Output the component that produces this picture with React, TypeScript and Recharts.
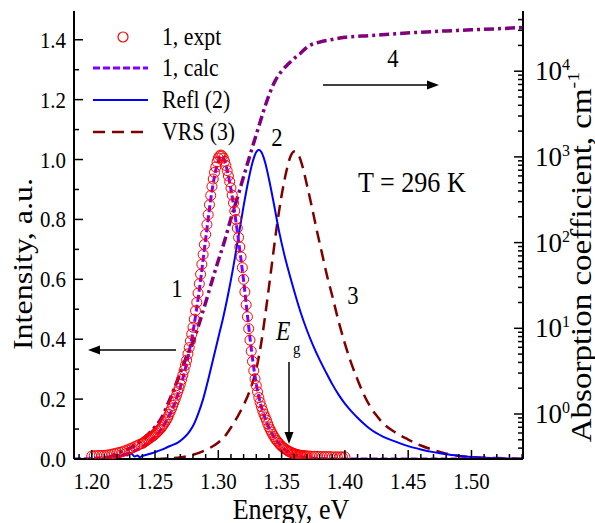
import { ComposedChart, Line, Scatter, XAxis, YAxis } from "recharts";

document.body.style.margin = "0";

const FONT = "'Liberation Serif', 'Times New Roman', serif";
const SQ = 0.87; // glyphs in the figure are a bit narrow

// PL, experiment (curve 1, circles): [energy eV, intensity]
const expt: number[][] = [
  [1.200, 0.010], [1.202, 0.011], [1.204, 0.011], [1.206, 0.012], [1.208, 0.012],
  [1.210, 0.012], [1.212, 0.013], [1.214, 0.014], [1.216, 0.016], [1.218, 0.018],
  [1.220, 0.020], [1.222, 0.022], [1.224, 0.024], [1.226, 0.027], [1.228, 0.030],
  [1.230, 0.034], [1.232, 0.037], [1.234, 0.041], [1.236, 0.045], [1.238, 0.049],
  [1.240, 0.052], [1.241, 0.055], [1.242, 0.058], [1.243, 0.061], [1.244, 0.064],
  [1.245, 0.067], [1.246, 0.070], [1.247, 0.073], [1.248, 0.076], [1.249, 0.079],
  [1.250, 0.083], [1.251, 0.087], [1.252, 0.091], [1.253, 0.096], [1.254, 0.100],
  [1.255, 0.105], [1.256, 0.111], [1.257, 0.117], [1.258, 0.124], [1.259, 0.131],
  [1.260, 0.138], [1.261, 0.148], [1.262, 0.158], [1.263, 0.168], [1.264, 0.179],
  [1.265, 0.190], [1.266, 0.201], [1.267, 0.213], [1.268, 0.225], [1.269, 0.237],
  [1.270, 0.250], [1.271, 0.265], [1.272, 0.280], [1.273, 0.296], [1.274, 0.313],
  [1.275, 0.330], [1.276, 0.351], [1.277, 0.372], [1.278, 0.394], [1.279, 0.417],
  [1.280, 0.440], [1.281, 0.467], [1.282, 0.495], [1.283, 0.523], [1.284, 0.554],
  [1.285, 0.585], [1.286, 0.617], [1.287, 0.650], [1.288, 0.683], [1.289, 0.716],
  [1.290, 0.750], [1.291, 0.783], [1.292, 0.816], [1.293, 0.849], [1.294, 0.880],
  [1.295, 0.910], [1.296, 0.935], [1.297, 0.957], [1.298, 0.975], [1.299, 0.992],
  [1.300, 1.005], [1.301, 1.012], [1.302, 1.015], [1.303, 1.012], [1.304, 1.005],
  [1.305, 0.994], [1.306, 0.980], [1.307, 0.963], [1.308, 0.945], [1.309, 0.926],
  [1.310, 0.905], [1.311, 0.881], [1.312, 0.855], [1.313, 0.828], [1.314, 0.800],
  [1.315, 0.771], [1.316, 0.740], [1.317, 0.708], [1.318, 0.675], [1.319, 0.639],
  [1.320, 0.600], [1.321, 0.558], [1.322, 0.515], [1.323, 0.475], [1.324, 0.435],
  [1.325, 0.397], [1.326, 0.360], [1.327, 0.326], [1.328, 0.295], [1.329, 0.268],
  [1.330, 0.245], [1.331, 0.224], [1.332, 0.205], [1.333, 0.189], [1.334, 0.175],
  [1.335, 0.162], [1.336, 0.150], [1.337, 0.140], [1.338, 0.130], [1.339, 0.118],
  [1.340, 0.107], [1.341, 0.098], [1.342, 0.090], [1.343, 0.082], [1.344, 0.075],
  [1.345, 0.068], [1.346, 0.062], [1.347, 0.057], [1.348, 0.052], [1.349, 0.047],
  [1.350, 0.043], [1.351, 0.039], [1.352, 0.036], [1.353, 0.033], [1.354, 0.030],
  [1.355, 0.027], [1.356, 0.025], [1.357, 0.023], [1.358, 0.021], [1.359, 0.019],
  [1.360, 0.018], [1.361, 0.016], [1.362, 0.015], [1.363, 0.014], [1.364, 0.013],
  [1.365, 0.012], [1.366, 0.012], [1.367, 0.011], [1.368, 0.011], [1.369, 0.010],
  [1.370, 0.010], [1.372, 0.010], [1.374, 0.009], [1.376, 0.009], [1.378, 0.009],
  [1.380, 0.008], [1.382, 0.008], [1.384, 0.008], [1.386, 0.008], [1.388, 0.008],
  [1.390, 0.007], [1.392, 0.007], [1.394, 0.007], [1.396, 0.007], [1.398, 0.007],
  [1.400, 0.007],
];

// PL, calculated (curve 1, short dashes)
const calc: number[][] = [
  [1.186, 0.0], [1.200, 0.002], [1.210, 0.005], [1.220, 0.010], [1.230, 0.020],
  [1.240, 0.040], [1.245, 0.055], [1.250, 0.075], [1.255, 0.100], [1.260, 0.135],
  [1.265, 0.180], [1.270, 0.240], [1.275, 0.320], [1.280, 0.425], [1.285, 0.565],
  [1.290, 0.735], [1.295, 0.895], [1.2975, 0.955], [1.300, 0.995], [1.3025, 1.012],
  [1.305, 0.995], [1.3075, 0.955], [1.310, 0.900], [1.3125, 0.835], [1.315, 0.760],
  [1.3175, 0.680], [1.320, 0.595], [1.3225, 0.500], [1.325, 0.405], [1.3275, 0.320],
  [1.330, 0.250], [1.3325, 0.198], [1.335, 0.160], [1.340, 0.105], [1.345, 0.068],
  [1.350, 0.042], [1.355, 0.025], [1.360, 0.014], [1.370, 0.005], [1.380, 0.002],
  [1.400, 0.0], [1.540, 0.0],
];

// Reflection (curve 2)
const refl: number[][] = [
  [1.221, 0.004], [1.224, 0.012], [1.226, 0.018], [1.228, 0.012], [1.230, 0.020],
  [1.232, 0.016], [1.234, 0.008], [1.236, 0.012], [1.238, 0.006], [1.240, 0.010],
  [1.244, 0.015], [1.248, 0.020], [1.252, 0.026], [1.256, 0.032], [1.260, 0.040],
  [1.264, 0.047], [1.268, 0.055], [1.272, 0.068], [1.276, 0.085], [1.280, 0.110],
  [1.284, 0.150], [1.288, 0.200], [1.292, 0.265], [1.296, 0.335], [1.300, 0.405],
  [1.304, 0.475], [1.308, 0.555], [1.312, 0.645], [1.316, 0.745], [1.320, 0.845],
  [1.324, 0.935], [1.327, 0.990], [1.330, 1.025], [1.332, 1.033], [1.334, 1.025],
  [1.337, 0.990], [1.340, 0.935], [1.344, 0.850], [1.348, 0.760], [1.352, 0.685],
  [1.356, 0.620], [1.360, 0.560], [1.365, 0.490], [1.370, 0.430], [1.375, 0.378],
  [1.380, 0.332], [1.385, 0.290], [1.390, 0.250], [1.395, 0.215], [1.400, 0.185],
  [1.405, 0.160], [1.410, 0.138], [1.415, 0.118], [1.420, 0.100], [1.430, 0.075],
  [1.440, 0.058], [1.450, 0.043], [1.460, 0.032], [1.470, 0.023], [1.480, 0.016],
  [1.490, 0.011], [1.500, 0.007], [1.510, 0.004], [1.520, 0.002], [1.530, 0.001],
  [1.540, 0.0],
];

// VRS (curve 3)
const vrs: number[][] = [
  [1.250, 0.000], [1.260, 0.002], [1.270, 0.005], [1.280, 0.014], [1.290, 0.030],
  [1.300, 0.055], [1.305, 0.075], [1.310, 0.105], [1.315, 0.140], [1.320, 0.180],
  [1.325, 0.230], [1.330, 0.300], [1.334, 0.390], [1.338, 0.510], [1.342, 0.640],
  [1.346, 0.770], [1.350, 0.880], [1.354, 0.965], [1.357, 1.010], [1.360, 1.027],
  [1.363, 1.018], [1.366, 0.985], [1.370, 0.915], [1.374, 0.840], [1.378, 0.760],
  [1.382, 0.685], [1.386, 0.610], [1.390, 0.545], [1.395, 0.460], [1.400, 0.385],
  [1.405, 0.320], [1.410, 0.265], [1.415, 0.215], [1.420, 0.175], [1.425, 0.145],
  [1.430, 0.120], [1.440, 0.088], [1.450, 0.065], [1.460, 0.045], [1.470, 0.030],
  [1.480, 0.018], [1.490, 0.010], [1.500, 0.006], [1.510, 0.004], [1.520, 0.003],
  [1.530, 0.002], [1.540, 0.001],
];

// absorption coefficient, cm^-1 (curve 4, right log axis)
const absorption: number[][] = [
  [1.212, 0.302], [1.220, 0.347], [1.230, 0.398], [1.240, 0.501], [1.250, 0.708],
  [1.255, 0.891], [1.260, 1.29], [1.265, 1.95], [1.270, 3.02], [1.275, 4.68],
  [1.280, 6.92], [1.285, 11.5], [1.290, 20.0], [1.295, 35.5], [1.300, 61.7],
  [1.305, 105], [1.310, 191], [1.315, 331], [1.320, 589], [1.325, 1047],
  [1.330, 1820], [1.335, 3162], [1.340, 5248], [1.345, 7762], [1.350, 10000],
  [1.355, 12020], [1.360, 14130], [1.365, 16220], [1.370, 19050], [1.380, 21880],
  [1.390, 23440], [1.400, 24830], [1.420, 26000], [1.440, 27350], [1.460, 28510],
  [1.480, 29510], [1.500, 30410], [1.520, 31260], [1.540, 32360],
];

const X_LABELS = [1.2, 1.25, 1.3, 1.35, 1.4, 1.45, 1.5];
const X_TICKS = [
  1.19, 1.2, 1.21, 1.22, 1.23, 1.24, 1.25, 1.26, 1.27, 1.28, 1.29, 1.3, 1.31,
  1.32, 1.33, 1.34, 1.35, 1.36, 1.37, 1.38, 1.39, 1.4, 1.41, 1.42, 1.43, 1.44,
  1.45, 1.46, 1.47, 1.48, 1.49, 1.5, 1.51, 1.52, 1.53, 1.54,
];
const TOP_TICKS = [
  1.2, 1.225, 1.25, 1.275, 1.3, 1.325, 1.35, 1.375, 1.4, 1.425, 1.45, 1.475, 1.5, 1.525,
];
const Y_LABELS = [0, 0.2, 0.4, 0.6, 0.8, 1.0, 1.2, 1.4];
const Y_TICKS = [0, 0.1, 0.2, 0.3, 0.4, 0.5, 0.6, 0.7, 0.8, 0.9, 1.0, 1.1, 1.2, 1.3, 1.4];
const LOG_TICKS = [
  0.3, 0.4, 0.5, 0.6, 0.7, 0.8, 0.9,
  1, 2, 3, 4, 5, 6, 7, 8, 9,
  10, 20, 30, 40, 50, 60, 70, 80, 90,
  100, 200, 300, 400, 500, 600, 700, 800, 900,
  1000, 2000, 3000, 4000, 5000, 6000, 7000, 8000, 9000,
  10000, 20000, 30000, 40000,
];

const pts = (a: number[][]) => a.map(([e, v]) => ({ e, v }));
const near = (a: number, b: number) => Math.abs(a - b) < 1e-6;

function SqText({ x, y, size, anchor = "start", italic, children }: any) {
  return (
    <text
      transform={`translate(${x},${y}) scale(${SQ},1)`}
      fontSize={size}
      fontFamily={FONT}
      textAnchor={anchor}
      fontStyle={italic ? "italic" : undefined}
      fill="#000"
    >
      {children}
    </text>
  );
}

function BottomTick({ x, y, payload }: any) {
  const v = payload.value;
  const major = X_LABELS.some((t) => near(t, v));
  return (
    <g>
      <line x1={x} y1={y} x2={x} y2={y - (major ? 9 : 5)} stroke="#000" strokeWidth={1.5} />
      {major && (
        <SqText x={x} y={y + 30} size={24} anchor="middle">
          {v.toFixed(2)}
        </SqText>
      )}
    </g>
  );
}

function TopTick({ x, y }: any) {
  return <line x1={x} y1={y} x2={x} y2={y + 4} stroke="#000" strokeWidth={1} />;
}

function LeftTick({ x, y, payload }: any) {
  const v = payload.value;
  const major = Y_LABELS.some((t) => near(t, v));
  return (
    <g>
      <line x1={x} y1={y} x2={x + (major ? 9 : 5)} y2={y} stroke="#000" strokeWidth={1.5} />
      {major && (
        <SqText x={x - 8} y={y + 8} size={24} anchor="end">
          {v.toFixed(1)}
        </SqText>
      )}
    </g>
  );
}

function RightTick({ x, y, payload }: any) {
  const v = payload.value;
  const p = Math.log10(v);
  const major = Math.abs(p - Math.round(p)) < 1e-6;
  return (
    <g>
      <line x1={x} y1={y} x2={x - (major ? 9 : 5)} y2={y} stroke="#000" strokeWidth={1.5} />
      {major && (
        <text x={x + 12} y={y + 9} fontSize={27} fontFamily={FONT} fill="#000">
          10
          <tspan fontSize={16} dy={-10}>
            {Math.round(p)}
          </tspan>
        </text>
      )}
    </g>
  );
}

function Overlay() {
  return (
    <svg
      width={595}
      height={523}
      style={{ position: "absolute", left: 0, top: 0, pointerEvents: "none" }}
    >
      {/* legend */}
      <circle cx={123} cy={37} r={5} fill="none" stroke="#ff0000" strokeWidth={1.2} />
      <SqText x={162} y={45} size={25}>1, expt</SqText>
      <line x1={93} y1={68} x2={148} y2={68} stroke="#8000ff" strokeWidth={3} strokeDasharray="7 3" />
      <SqText x={162} y={76} size={25}>1, calc</SqText>
      <line x1={93} y1={100} x2={148} y2={100} stroke="#0000ff" strokeWidth={2} />
      <SqText x={162} y={108} size={25}>Refl (2)</SqText>
      <line x1={93} y1={132} x2={148} y2={132} stroke="#800000" strokeWidth={2.5} strokeDasharray="12 7" />
      <SqText x={162} y={140} size={25}>VRS (3)</SqText>

      {/* curve labels */}
      <SqText x={177} y={297} size={26} anchor="middle">1</SqText>
      <SqText x={277} y={146} size={26} anchor="middle">2</SqText>
      <SqText x={353} y={304} size={26} anchor="middle">3</SqText>
      <SqText x={393} y={67} size={26} anchor="middle">4</SqText>
      <SqText x={358} y={192} size={30}>T = 296 K</SqText>
      <SqText x={276} y={340} size={27} italic>E</SqText>
      <SqText x={293} y={354} size={17}>g</SqText>

      {/* arrows */}
      <line x1={176} y1={350} x2={98} y2={350} stroke="#000" strokeWidth={1.5} />
      <polygon points="88,350 100,345.5 100,354.5" fill="#000" />
      <line x1={323} y1={85} x2={429} y2={85} stroke="#000" strokeWidth={1.5} />
      <polygon points="439,85 427,80.5 427,89.5" fill="#000" />
      <line x1={289} y1={362} x2={289} y2={434} stroke="#000" strokeWidth={1.5} />
      <polygon points="289,444 284.5,432 293.5,432" fill="#000" />

      {/* axis titles */}
      <SqText x={291} y={519} size={30} anchor="middle">Energy, eV</SqText>
      <text
        transform={`translate(32,264) scale(${SQ},1) rotate(-90)`}
        fontSize={32}
        fontFamily={FONT}
        textAnchor="middle"
        fill="#000"
      >
        Intensity, a.u.
      </text>
      <text
        transform={`translate(591,257) scale(${SQ},1) rotate(-90)`}
        fontSize={33}
        fontFamily={FONT}
        textAnchor="middle"
        fill="#000"
      >
        Absorption coefficient, cm
        <tspan fontSize={20} dy={-14}>-1</tspan>
      </text>
    </svg>
  );
}

export default function App() {
  return (
    <div style={{ position: "relative", width: 595, height: 523, background: "#fff" }}>
      <ComposedChart width={595} height={523} margin={{ top: 11, right: 0, bottom: 0, left: 0 }}>
        <XAxis
          dataKey="e"
          type="number"
          domain={[1.186, 1.5407]}
          ticks={X_TICKS}
          interval={0}
          height={64}
          tickSize={0}
          tickMargin={0}
          tickLine={false}
          tick={(p: any) => <BottomTick {...p} />}
          axisLine={{ stroke: "#000", strokeWidth: 2 }}
          allowDataOverflow
        />
        <XAxis
          xAxisId="top"
          orientation="top"
          dataKey="e"
          type="number"
          domain={[1.186, 1.5407]}
          ticks={TOP_TICKS}
          interval={0}
          height={0}
          tickSize={0}
          tickMargin={0}
          tickLine={false}
          tick={(p: any) => <TopTick {...p} />}
          axisLine={{ stroke: "#000", strokeWidth: 2 }}
          allowDataOverflow
        />
        <YAxis
          yAxisId="left"
          type="number"
          domain={[0, 1.496]}
          ticks={Y_TICKS}
          interval={0}
          width={74}
          tickSize={0}
          tickMargin={0}
          tickLine={false}
          tick={(p: any) => <LeftTick {...p} />}
          axisLine={{ stroke: "#000", strokeWidth: 2 }}
          allowDataOverflow
        />
        <YAxis
          yAxisId="right"
          orientation="right"
          type="number"
          scale="log"
          domain={[0.2985, 50400]}
          ticks={LOG_TICKS}
          interval={0}
          width={72}
          tickSize={0}
          tickMargin={0}
          tickLine={false}
          tick={(p: any) => <RightTick {...p} />}
          axisLine={{ stroke: "#000", strokeWidth: 2 }}
          allowDataOverflow
        />
        <Line
          yAxisId="left"
          data={pts(vrs)}
          dataKey="v"
          type="monotone"
          stroke="#800000"
          strokeWidth={2.5}
          strokeDasharray="12 7"
          dot={false}
          isAnimationActive={false}
        />
        <Line
          yAxisId="left"
          data={pts(refl)}
          dataKey="v"
          type="monotone"
          stroke="#0000ff"
          strokeWidth={2}
          dot={false}
          isAnimationActive={false}
        />
        <Scatter
          yAxisId="left"
          data={pts(expt)}
          dataKey="v"
          isAnimationActive={false}
          shape={(p: any) => (
            <circle cx={p.cx} cy={p.cy} r={5} fill="none" stroke="#ff0000" strokeWidth={1} />
          )}
        />
        <Line
          yAxisId="left"
          data={pts(calc)}
          dataKey="v"
          type="monotone"
          stroke="#8000ff"
          strokeWidth={3}
          strokeDasharray="7 3"
          dot={false}
          isAnimationActive={false}
        />
        <Line
          yAxisId="right"
          data={pts(absorption)}
          dataKey="v"
          type="monotone"
          stroke="#800080"
          strokeWidth={3.5}
          strokeDasharray="10 4 3 4"
          dot={false}
          isAnimationActive={false}
        />
      </ComposedChart>
      <Overlay />
    </div>
  );
}
